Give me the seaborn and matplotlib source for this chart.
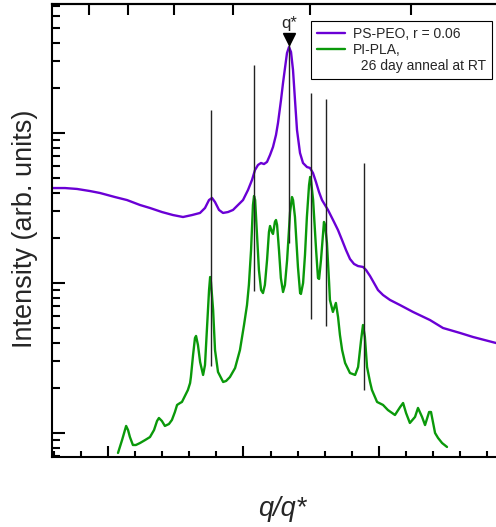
import numpy as np
import pandas as pd
import matplotlib
matplotlib.use("Agg")
import matplotlib.pyplot as plt
import seaborn as sns
from matplotlib.ticker import FixedLocator, LogLocator, NullFormatter
from matplotlib.lines import Line2D

# ---------------- data ----------------
# PS-PEO, r = 0.06  (q/q*, log10 intensity)
q_peo = [0.1255, 0.1734, 0.2177, 0.2657, 0.3026, 0.3579, 0.4022, 0.4502, 0.4871, 0.5314,
         0.5720, 0.6089, 0.6421, 0.6716, 0.6900, 0.7048, 0.7159, 0.7269, 0.7417, 0.7565,
         0.7749, 0.7934, 0.8118, 0.8303, 0.8487, 0.8635, 0.8745, 0.8856, 0.8967, 0.9077,
         0.9188, 0.9299, 0.9410, 0.9520, 0.9594, 0.9705, 0.9779, 0.9852, 0.9926, 1.0000,
         1.0074, 1.0148, 1.0221, 1.0295, 1.0406, 1.0517, 1.0664, 1.0775, 1.0886, 1.0996,
         1.1107, 1.1218, 1.1328, 1.1439, 1.1550, 1.1661, 1.1808, 1.1956, 1.2103, 1.2251,
         1.2399, 1.2546, 1.2731, 1.2841, 1.2989, 1.3137, 1.3284, 1.3469, 1.3727, 1.4096,
         1.4576, 1.5203, 1.5683, 1.6310, 1.6790, 1.7638]
logI_peo = [1.633, 1.633, 1.627, 1.613, 1.600, 1.573, 1.553, 1.520, 1.500, 1.473,
            1.453, 1.440, 1.453, 1.467, 1.500, 1.553, 1.567, 1.540, 1.487, 1.467,
            1.473, 1.487, 1.520, 1.553, 1.620, 1.687, 1.753, 1.787, 1.800, 1.793,
            1.807, 1.853, 1.907, 1.987, 2.067, 2.220, 2.333, 2.433, 2.533, 2.573,
            2.540, 2.420, 2.220, 2.020, 1.867, 1.800, 1.773, 1.767, 1.733, 1.673,
            1.607, 1.553, 1.520, 1.487, 1.447, 1.407, 1.353, 1.287, 1.220, 1.160,
            1.127, 1.113, 1.107, 1.087, 1.047, 1.000, 0.953, 0.920, 0.887, 0.853,
            0.807, 0.753, 0.700, 0.667, 0.640, 0.600]

# PI-PLA, 26 day anneal at RT  (q/q*, log10 intensity)
q_pla = [0.369, 0.384, 0.399, 0.406, 0.413, 0.424, 0.435, 0.450, 0.469, 0.487,
         0.502, 0.513, 0.520, 0.531, 0.542, 0.557, 0.568, 0.579, 0.587, 0.598,
         0.605, 0.616, 0.627, 0.635, 0.638, 0.646, 0.653, 0.657, 0.664, 0.672,
         0.683, 0.690, 0.697, 0.705, 0.709, 0.712, 0.720, 0.727, 0.738, 0.757,
         0.768, 0.782, 0.801, 0.819, 0.834, 0.845, 0.852, 0.860, 0.867, 0.871,
         0.875, 0.882, 0.889, 0.897, 0.904, 0.911, 0.919, 0.926, 0.930, 0.937,
         0.941, 0.948, 0.952, 0.956, 0.963, 0.970, 0.978, 0.985, 0.993, 1.004,
         1.011, 1.015, 1.022, 1.033, 1.041, 1.044, 1.052, 1.059, 1.066, 1.074,
         1.078, 1.081, 1.089, 1.100, 1.107, 1.111, 1.118, 1.129, 1.133, 1.140,
         1.148, 1.151, 1.162, 1.173, 1.181, 1.188, 1.196, 1.207, 1.225, 1.244,
         1.255, 1.266, 1.273, 1.280, 1.288, 1.299, 1.306, 1.325, 1.347, 1.365,
         1.391, 1.410, 1.421, 1.432, 1.446, 1.465, 1.476, 1.491, 1.502, 1.517,
         1.524, 1.539, 1.550, 1.565, 1.583]
logI_pla = [-0.133, -0.047, 0.047, 0.020, -0.027, -0.080, -0.080, -0.067, -0.047, -0.027,
            0.020, 0.080, 0.100, 0.080, 0.047, 0.060, 0.087, 0.140, 0.187, 0.200,
            0.207, 0.247, 0.287, 0.333, 0.373, 0.520, 0.633, 0.647, 0.587, 0.473,
            0.387, 0.453, 0.687, 0.953, 1.040, 1.007, 0.820, 0.553, 0.407, 0.340,
            0.347, 0.373, 0.433, 0.553, 0.720, 0.853, 0.987, 1.220, 1.520, 1.580,
            1.553, 1.320, 1.087, 0.953, 0.933, 0.987, 1.153, 1.340, 1.380, 1.340,
            1.327, 1.407, 1.420, 1.387, 1.220, 1.033, 0.940, 0.987, 1.153, 1.473,
            1.573, 1.553, 1.440, 1.107, 0.933, 0.927, 1.000, 1.187, 1.440, 1.653,
            1.707, 1.687, 1.553, 1.220, 1.033, 1.027, 1.153, 1.407, 1.387, 1.267,
            1.000, 0.887, 0.807, 0.867, 0.773, 0.653, 0.553, 0.467, 0.400, 0.387,
            0.440, 0.620, 0.720, 0.640, 0.440, 0.340, 0.287, 0.207, 0.187, 0.153,
            0.120, 0.173, 0.200, 0.133, 0.067, 0.107, 0.167, 0.107, 0.053, 0.140,
            0.140, 0.000, -0.033, -0.067, -0.093]

# reference peak lines (q/q*, log10 intensity from..to)
peak_q = [0.712, 0.871, 1.000, 1.081, 1.137, 1.277]
peak_log_low = [0.447, 0.947, 1.267, 0.760, 0.713, 0.287]
peak_log_high = [2.153, 2.453, 2.620, 2.267, 2.227, 1.800]

qstar_q = 1.0
qstar_log = 2.627
qstar_label_log = 2.733

labels = ["PS-PEO, r = 0.06", "PI-PLA,", "  26 day anneal at RT"]
purple = "#6a00d5"
green = "#0a990a"

# ---------------- plot ----------------
sns.set_style("ticks")
plt.rcParams["font.family"] = ["Liberation Sans", "DejaVu Sans"]

W, H = 496, 527
fig = plt.figure(figsize=(W / 100, H / 100), dpi=100)
ax = fig.add_axes([52 / W, 70 / H, 444 / W, 453 / H])

assert len(q_peo) == len(logI_peo) and len(q_pla) == len(logI_pla)
df_peo = pd.DataFrame({"q": q_peo, "I": 10 ** np.array(logI_peo)})
df_pla = pd.DataFrame({"q": q_pla, "I": 10 ** np.array(logI_pla)})

sns.lineplot(data=df_peo, x="q", y="I", ax=ax, color=purple, lw=1.7,
             estimator=None, sort=False, zorder=2)
sns.lineplot(data=df_pla, x="q", y="I", ax=ax, color=green, lw=1.7,
             estimator=None, sort=False, zorder=2)
ax.set_yscale("log")

ax.vlines(peak_q, 10 ** np.array(peak_log_low), 10 ** np.array(peak_log_high),
          color="#222222", lw=1.0, zorder=3)
ax.plot([qstar_q], [10 ** qstar_log], marker="v", color="black", ms=8, zorder=4)
ax.text(qstar_q, 10 ** qstar_label_log, "q*", ha="center", va="center", fontsize=12)

ax.set_xlim(34 / 271, 478 / 271)
ax.set_ylim(10 ** -0.16, 10 ** 2.86)

# ticks
ax.xaxis.set_major_locator(FixedLocator([0.3321, 0.8321, 1.3321]))
ax.xaxis.set_minor_locator(FixedLocator([0.1321, 0.2321, 0.4321, 0.5321, 0.6321, 0.7321,
                                         0.9321, 1.0321, 1.1321, 1.2321, 1.4321, 1.5321,
                                         1.6321, 1.7321]))
ax.yaxis.set_major_locator(LogLocator(base=10, numticks=10))
ax.yaxis.set_minor_locator(LogLocator(base=10, subs=np.arange(2, 10), numticks=20))
ax.yaxis.set_minor_formatter(NullFormatter())
ax.tick_params(axis="x", which="major", direction="in", length=8, width=1.5,
               labelbottom=False, bottom=True, top=False, color="black")
ax.tick_params(axis="x", which="minor", direction="in", length=4.5, width=1.5,
               bottom=True, top=False, color="black")
ax.tick_params(axis="y", which="major", direction="in", length=9, width=1.5,
               labelleft=False, left=True, right=False, color="black")
ax.tick_params(axis="y", which="minor", direction="in", length=5.5, width=1.5,
               left=True, right=False, color="black")

sec = ax.secondary_xaxis("top")
sec.set_xticks([0.262, 0.406, 0.576, 0.793, 1.077, 1.450])
sec.tick_params(direction="in", length=8, width=1.5, labeltop=False, color="black")
sec.xaxis.set_minor_locator(FixedLocator([]))
sec.spines["top"].set_linewidth(1.5)
sec.spines["top"].set_color("black")

for side in ["left", "bottom", "top"]:
    ax.spines[side].set_linewidth(1.5)
    ax.spines[side].set_color("black")
ax.spines["right"].set_visible(False)

ax.set_xlabel("q/q*", fontsize=19.5, fontstyle="italic")
ax.set_ylabel("Intensity (arb. units)", fontsize=19.5)
ax.xaxis.set_label_coords(0.518, -0.086)
ax.yaxis.set_label_coords(-0.0315, 0.504)

handles = [Line2D([], [], color=purple, lw=1.7),
           Line2D([], [], color=green, lw=1.7),
           Line2D([], [], color="none", lw=1.7)]
leg = fig.legend(handles, labels, loc="upper left",
                 bbox_to_anchor=(311 / W, 1 - 21 / H), bbox_transform=fig.transFigure,
                 frameon=True, fancybox=False, edgecolor="black", framealpha=1,
                 borderaxespad=0, fontsize=10, handlelength=2.0, handletextpad=0.55,
                 labelspacing=0.12, borderpad=0.45)
leg.get_frame().set_linewidth(0.8)

fig.savefig("out.png", dpi=100)
